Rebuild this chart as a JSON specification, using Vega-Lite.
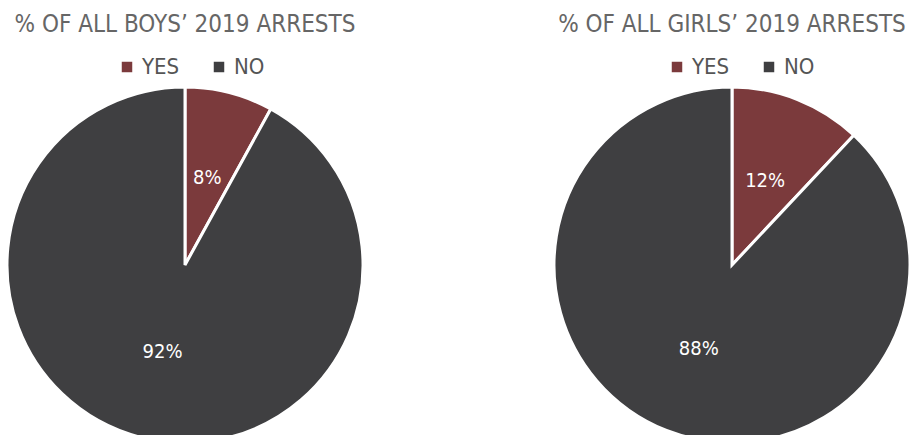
{
  "$schema": "https://vega.github.io/schema/vega-lite/v6.json",
  "background": "white",
  "padding": {"top": 13, "left": 0, "right": 0, "bottom": 0},
  "spacing": 177,
  "config": {"view": {"stroke": null}, "font": "DejaVu Sans Condensed"},
  "resolve": {"scale": {"color": "independent", "theta": "independent"}, "legend": {"color": "independent"}},
  "hconcat": [
    {
      "title": {"text": "% OF ALL BOYS’ 2019 ARRESTS", "fontSize": 24, "color": "#666666", "fontWeight": "normal", "anchor": "middle", "font": "DejaVu Sans Condensed", "offset": 19},
      "width": 370, "height": 360,
      "data": {"values": [{"answer": "YES", "pct": 8, "label": "8%", "o": 1}, {"answer": "NO", "pct": 92, "label": "92%", "o": 2}]},
      "encoding": {"theta": {"field": "pct", "type": "quantitative", "stack": true}, "order": {"field": "o", "type": "quantitative"}},
      "layer": [
        {"mark": {"type": "arc", "outerRadius": 178, "stroke": "white", "strokeWidth": 3},
         "encoding": {"color": {"field": "answer", "type": "nominal", "scale": {"domain": ["YES", "NO"], "range": ["#7b3a3c", "#3f3f41"]},
           "legend": {"title": null, "orient": "none", "legendX": 116, "legendY": -29, "direction": "horizontal", "symbolType": "square", "symbolSize": 110, "labelFontSize": 22, "labelColor": "#555555", "labelFont": "DejaVu Sans Condensed", "columnPadding": 28, "symbolStrokeWidth": 0}}}},
        {"mark": {"type": "text", "radius": 90, "fill": "white", "fontSize": 20, "font": "DejaVu Sans Condensed"}, "encoding": {"text": {"field": "label"}}}
      ]
    },
    {
      "title": {"text": "% OF ALL GIRLS’ 2019 ARRESTS", "fontSize": 24, "color": "#666666", "fontWeight": "normal", "anchor": "middle", "font": "DejaVu Sans Condensed", "offset": 19},
      "width": 370, "height": 360,
      "data": {"values": [{"answer": "YES", "pct": 12, "label": "12%", "o": 1}, {"answer": "NO", "pct": 88, "label": "88%", "o": 2}]},
      "encoding": {"theta": {"field": "pct", "type": "quantitative", "stack": true}, "order": {"field": "o", "type": "quantitative"}},
      "layer": [
        {"mark": {"type": "arc", "outerRadius": 178, "stroke": "white", "strokeWidth": 3},
         "encoding": {"color": {"field": "answer", "type": "nominal", "scale": {"domain": ["YES", "NO"], "range": ["#7b3a3c", "#3f3f41"]},
           "legend": {"title": null, "orient": "none", "legendX": 119, "legendY": -29, "direction": "horizontal", "symbolType": "square", "symbolSize": 110, "labelFontSize": 22, "labelColor": "#555555", "labelFont": "DejaVu Sans Condensed", "columnPadding": 28, "symbolStrokeWidth": 0}}}},
        {"mark": {"type": "text", "radius": 90, "fill": "white", "fontSize": 20, "font": "DejaVu Sans Condensed"}, "encoding": {"text": {"field": "label"}}}
      ]
    }
  ]
}
